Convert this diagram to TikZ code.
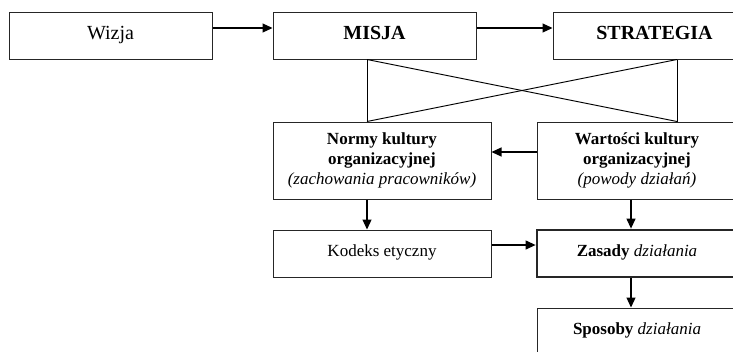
\documentclass[tikz,border=0pt]{standalone}
\usepackage{fontspec}
\setmainfont{Liberation Serif}
\usetikzlibrary{arrows.meta}
\begin{document}
\begin{tikzpicture}[x=1pt,y=-1pt,
  box/.style={draw=black!85,line width=1pt,rectangle,inner sep=0pt,align=center,fill=white},
  topbox/.style={box,minimum width=203pt,minimum height=47pt,text height=14pt,text depth=6pt,font=\fontsize{20}{24}\selectfont},
  midbox/.style={box,minimum height=77pt,font=\fontsize{17}{20}\selectfont},
  lowbox/.style={box,minimum height=47pt,text height=12pt,text depth=6pt,font=\fontsize{17}{20}\selectfont},
  arr/.style={line width=1.2pt,-{Triangle[length=10pt,width=9pt]}},
  ln/.style={line width=0.9pt}]
\useasboundingbox (0,0) rectangle (733,351);
\clip (0,0) rectangle (733,351);
\fill[white] (0,0) rectangle (733,351);
% top row
\node[topbox] (wizja) at (110.5,35.5) {Wizja};
\node[topbox] (misja) at (374.5,35.5) {\textbf{MISJA}};
\node[topbox] (strat) at (654.5,35.5) {\textbf{STRATEGIA}};
% middle row
\node[midbox,minimum width=218pt] (normy) at (382,160.5) {\textbf{Normy kultury}\\\textbf{organizacyjnej}\\\textit{(zachowania pracowników)}};
\node[midbox,minimum width=200pt] (wart) at (637,160.5) {\textbf{Wartości kultury}\\\textbf{organizacyjnej}\\\textit{(powody działań)}};
% lower rows
\node[lowbox,minimum width=218pt] (kodeks) at (382,253.5) {Kodeks etyczny};
\node[lowbox,minimum width=200pt,line width=2.8pt] (zasady) at (637,253.5) {\textbf{Zasady} \textit{działania}};
\node[lowbox,minimum width=200pt] (sposoby) at (637,331.5) {\textbf{Sposoby} \textit{działania}};
% cross
\coordinate (cA) at ([xshift=-7.5pt]misja.south);
\coordinate (cB) at ([xshift=22.5pt]strat.south);
\coordinate (cC) at ([xshift=-15pt]normy.north);
\coordinate (cD) at ([xshift=40pt]wart.north);
\draw[ln] (cA) -- (cC);
\draw[ln] (cB) -- (cD);
\draw[ln] (cA) -- (cD);
\draw[ln] (cC) -- (cB);
% arrows
\draw[arr] ([yshift=7.5pt]wizja.east) -- ([yshift=7.5pt]misja.west);
\draw[arr] ([yshift=7.5pt]misja.east) -- ([yshift=7.5pt]strat.west);
\draw[arr] ([yshift=8.5pt]wart.west) -- ([yshift=8.5pt]normy.east);
\draw[arr] ([xshift=-15pt]normy.south) -- ([xshift=-15pt]kodeks.north);
\draw[arr] ([xshift=-6pt]wart.south) -- ([xshift=-6pt]zasady.north);
\draw[arr] ([yshift=8.5pt]kodeks.east) -- ([yshift=8.5pt]zasady.west);
\draw[arr] ([xshift=-6pt]zasady.south) -- ([xshift=-6pt]sposoby.north);
\end{tikzpicture}
\end{document}
